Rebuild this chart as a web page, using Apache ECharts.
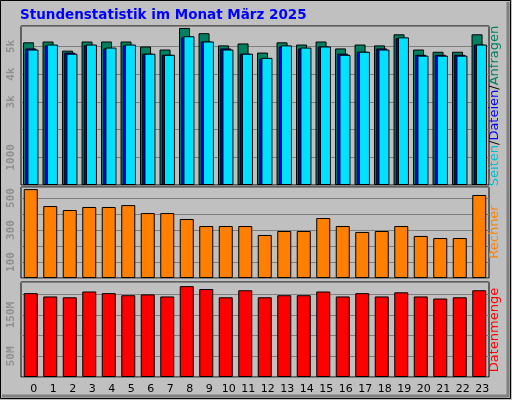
<!DOCTYPE html>
<html><head><meta charset="utf-8">
<script src="https://cdn.jsdelivr.net/npm/echarts@6/dist/echarts.min.js"></script>
<style>html,body{margin:0;padding:0;background:#c0c0c0}#c{width:512px;height:400px}</style>
</head><body><div id="c"></div>
<script>
var hours = ['0','1','2','3','4','5','6','7','8','9','10','11','12','13','14','15','16','17','18','19','20','21','22','23'];
var hits = [5150,5180,4850,5180,5180,5180,5000,4890,5670,5480,5040,5110,4780,5150,5070,5180,4930,5070,5040,5440,4890,4810,4810,5440];
var files = [4930,5040,4780,5040,4930,5040,4740,4700,5330,5180,4930,4740,4560,5000,4930,5000,4740,4810,4930,5300,4700,4700,4700,5070];
var pages = [4890,5070,4740,5070,4960,5070,4740,4700,5370,5180,4890,4740,4590,5040,4960,5000,4700,4810,4890,5330,4670,4670,4670,5070];
var sites = [556,450,425,444,444,456,406,406,369,325,325,325,269,294,294,375,325,288,294,325,263,250,250,519];
var volume = [203,195,193,207,203,198,200,195,220,213,193,210,193,198,198,207,195,203,195,205,195,190,193,210];

var yl = {rotate:90, color:'#909090', fontWeight:'bold', fontSize:11, fontFamily:'DejaVu Sans Mono', margin:4};
var split = {show:true, lineStyle:{color:'#808080', width:1}};
var grids = [
  {left:21, right:23, top:26, height:159},
  {left:21, right:23, top:187, height:91},
  {left:21, right:23, top:282, height:95}
];
grids.forEach(function(g){ g.show = true; g.borderColor = '#000'; g.borderWidth = 1; g.backgroundColor = '#c0c0c0'; });
function xa(i){ return {type:'category', data:hours, gridIndex:i, axisTick:{show:false}, axisLine:{show:false},
  axisLabel:{show:i===2, color:'#000', fontSize:11, fontFamily:'DejaVu Sans', margin:7, padding:[0,0,0,6]}}; }
var bs = {borderColor:'#000', borderWidth:1};
var chart = echarts.init(document.getElementById('c'));
chart.setOption({
  animation:false,
  backgroundColor:'#c0c0c0',
  grid:grids,
  xAxis:[xa(0), xa(1), xa(2)],
  yAxis:[
    {gridIndex:0, min:0, max:5740, interval:1000, axisLine:{show:false}, axisTick:{show:false}, splitLine:split,
      axisLabel:Object.assign({formatter:function(v){ return v===1000?'1000':(v===0||v===2000)?'':(v/1000)+'k'; }}, yl)},
    {gridIndex:1, min:0, max:569, interval:100, axisLine:{show:false}, axisTick:{show:false}, splitLine:split,
      axisLabel:Object.assign({formatter:function(v){ return (v/100)%2===1 ? String(v) : ''; }}, yl)},
    {gridIndex:2, min:0, max:230, interval:50, axisLine:{show:false}, axisTick:{show:false}, splitLine:split,
      axisLabel:Object.assign({formatter:function(v){ return (v===50||v===150) ? v+'M' : ''; }}, yl)}
  ],
  series:[
    {type:'bar', xAxisIndex:0, yAxisIndex:0, data:hits, barWidth:11, barGap:'-80%', itemStyle:Object.assign({color:'#008060'}, bs)},
    {type:'bar', xAxisIndex:0, yAxisIndex:0, data:files, barWidth:11, barGap:'-80%', itemStyle:Object.assign({color:'#0000ff'}, bs)},
    {type:'bar', xAxisIndex:0, yAxisIndex:0, data:pages, barWidth:11, barGap:'-80%', itemStyle:Object.assign({color:'#00e0ff'}, bs)},
    {type:'bar', xAxisIndex:1, yAxisIndex:1, data:sites, barWidth:14, itemStyle:Object.assign({color:'#ff8000'}, bs)},
    {type:'bar', xAxisIndex:2, yAxisIndex:2, data:volume, barWidth:14, itemStyle:Object.assign({color:'#ff0000'}, bs)}
  ],
  graphic:[
    {type:'rect', shape:{x:0.5, y:0.5, width:510, height:398}, style:{fill:null, stroke:'#000', lineWidth:1}},
    {type:'polyline', shape:{points:[[2,396],[508,396],[508,2]]}, style:{stroke:'#808080', lineWidth:3}},
    {type:'text', left:20, top:8, style:{text:'Stundenstatistik im Monat März 2025', fill:'#0000ff', font:'bold 13.5px "DejaVu Sans"'}},
    {type:'text', x:495, y:106, rotation:Math.PI/2, style:{
      text:'{a|Seiten}{s|/}{b|Dateien}{s|/}{c|Anfragen}', align:'center', verticalAlign:'middle',
      rich:{a:{fill:'#00c0d0', font:'13px "DejaVu Sans"'}, s:{fill:'#000', font:'13px "DejaVu Sans"'},
            b:{fill:'#0000ff', font:'13px "DejaVu Sans"'}, c:{fill:'#008060', font:'13px "DejaVu Sans"'}}}},
    {type:'text', x:495, y:232, rotation:Math.PI/2, style:{text:'Rechner', fill:'#ff8000', font:'13px "DejaVu Sans"', align:'center', verticalAlign:'middle'}},
    {type:'text', x:495, y:330, rotation:Math.PI/2, style:{text:'Datenmenge', fill:'#ff0000', font:'13px "DejaVu Sans"', align:'center', verticalAlign:'middle'}}
  ]
});
</script></body></html>
